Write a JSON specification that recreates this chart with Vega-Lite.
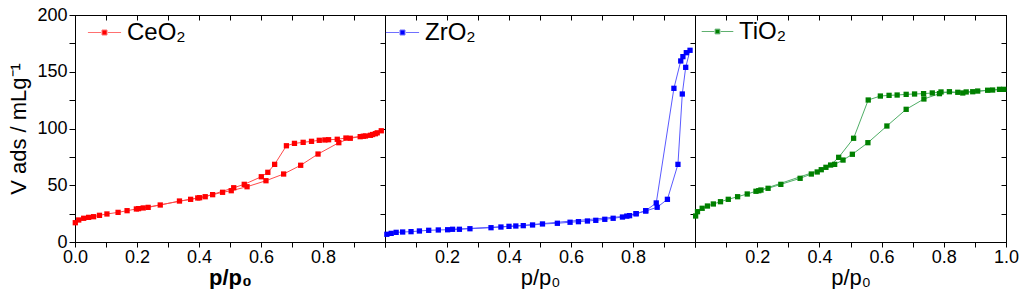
{
  "$schema": "https://vega.github.io/schema/vega-lite/v6.json",
  "padding": {"left": 7, "top": 5, "right": 4, "bottom": 0},
  "background": "white",
  "spacing": 0,
  "bounds": "flush",
  "config": {
    "view": {"stroke": "#000000", "strokeWidth": 1},
    "font": "Liberation Sans",
    "axis": {
      "grid": false, "domainColor": "#000000", "tickColor": "#000000", "labelColor": "#000000",
      "titleColor": "#000000", "labelFont": "Liberation Sans", "titleFont": "Liberation Sans",
      "labelFontSize": 18, "titleFontSize": 22, "titleFontWeight": "normal",
      "labelFlush": false, "labelOverlap": false, "labelBound": false, "tickWidth": 1, "domainWidth": 1
    },
    "legend": {"labelFont": "Liberation Sans", "labelFontSize": 24, "labelColor": "#000000", "padding": 0}
  },
  "datasets": {
    "ceo2": [
      {"i":1,"p":0.001,"v":17,"sample":"CeO₂"},{"i":2,"p":0.012,"v":19.4,"sample":"CeO₂"},{"i":3,"p":0.028,"v":20.9,"sample":"CeO₂"},{"i":4,"p":0.044,"v":21.7,"sample":"CeO₂"},{"i":5,"p":0.06,"v":22.3,"sample":"CeO₂"},{"i":6,"p":0.079,"v":23.5,"sample":"CeO₂"},{"i":7,"p":0.103,"v":24.7,"sample":"CeO₂"},{"i":8,"p":0.139,"v":26.1,"sample":"CeO₂"},{"i":9,"p":0.168,"v":27.6,"sample":"CeO₂"},{"i":10,"p":0.198,"v":29.1,"sample":"CeO₂"},{"i":11,"p":0.236,"v":30.5,"sample":"CeO₂"},{"i":12,"p":0.275,"v":32.6,"sample":"CeO₂"},{"i":13,"p":0.337,"v":36.1,"sample":"CeO₂"},{"i":14,"p":0.373,"v":37.6,"sample":"CeO₂"},{"i":15,"p":0.402,"v":39,"sample":"CeO₂"},{"i":16,"p":0.444,"v":41.7,"sample":"CeO₂"},{"i":17,"p":0.476,"v":43.8,"sample":"CeO₂"},{"i":18,"p":0.504,"v":45.2,"sample":"CeO₂"},{"i":19,"p":0.555,"v":48.7,"sample":"CeO₂"},{"i":20,"p":0.616,"v":54,"sample":"CeO₂"},{"i":21,"p":0.673,"v":59.9,"sample":"CeO₂"},{"i":22,"p":0.728,"v":67.6,"sample":"CeO₂"},{"i":23,"p":0.784,"v":77.5,"sample":"CeO₂"},{"i":24,"p":0.851,"v":87.5,"sample":"CeO₂"},{"i":25,"p":0.888,"v":91.4,"sample":"CeO₂"},{"i":26,"p":0.92,"v":92.8,"sample":"CeO₂"},{"i":27,"p":0.937,"v":93.4,"sample":"CeO₂"},{"i":28,"p":0.953,"v":94,"sample":"CeO₂"},{"i":29,"p":0.969,"v":95.4,"sample":"CeO₂"},{"i":30,"p":0.988,"v":98,"sample":"CeO₂"},
      {"i":31,"p":0.975,"v":96.2,"sample":"CeO₂"},{"i":32,"p":0.96,"v":94.7,"sample":"CeO₂"},{"i":33,"p":0.93,"v":93.2,"sample":"CeO₂"},{"i":34,"p":0.874,"v":91.6,"sample":"CeO₂"},{"i":35,"p":0.846,"v":90.5,"sample":"CeO₂"},{"i":36,"p":0.818,"v":90.1,"sample":"CeO₂"},{"i":37,"p":0.806,"v":89.9,"sample":"CeO₂"},{"i":38,"p":0.788,"v":89.6,"sample":"CeO₂"},{"i":39,"p":0.763,"v":88.7,"sample":"CeO₂"},{"i":40,"p":0.736,"v":87.8,"sample":"CeO₂"},{"i":41,"p":0.708,"v":86.9,"sample":"CeO₂"},{"i":42,"p":0.682,"v":84.8,"sample":"CeO₂"},{"i":43,"p":0.644,"v":68.4,"sample":"CeO₂"},{"i":44,"p":0.622,"v":61.4,"sample":"CeO₂"},{"i":45,"p":0.601,"v":57.5,"sample":"CeO₂"},{"i":46,"p":0.546,"v":50.8,"sample":"CeO₂"},{"i":47,"p":0.512,"v":47.8,"sample":"CeO₂"},{"i":48,"p":0.42,"v":39.9,"sample":"CeO₂"},{"i":49,"p":0.396,"v":38.8,"sample":"CeO₂"},{"i":50,"p":0.22,"v":30,"sample":"CeO₂"},{"i":51,"p":0.205,"v":29.4,"sample":"CeO₂"}
    ],
    "zro2": [
      {"i":1,"p":0.006,"v":6.8,"sample":"ZrO₂"},{"i":2,"p":0.02,"v":7.6,"sample":"ZrO₂"},{"i":3,"p":0.036,"v":8.5,"sample":"ZrO₂"},{"i":4,"p":0.057,"v":8.8,"sample":"ZrO₂"},{"i":5,"p":0.084,"v":9.1,"sample":"ZrO₂"},{"i":6,"p":0.111,"v":9.7,"sample":"ZrO₂"},{"i":7,"p":0.141,"v":10.3,"sample":"ZrO₂"},{"i":8,"p":0.172,"v":10.6,"sample":"ZrO₂"},{"i":9,"p":0.202,"v":10.8,"sample":"ZrO₂"},{"i":10,"p":0.24,"v":11.2,"sample":"ZrO₂"},{"i":11,"p":0.274,"v":11.7,"sample":"ZrO₂"},{"i":12,"p":0.342,"v":12.6,"sample":"ZrO₂"},{"i":13,"p":0.374,"v":13.2,"sample":"ZrO₂"},{"i":14,"p":0.4,"v":13.8,"sample":"ZrO₂"},{"i":15,"p":0.446,"v":14.4,"sample":"ZrO₂"},{"i":16,"p":0.476,"v":15,"sample":"ZrO₂"},{"i":17,"p":0.508,"v":15.9,"sample":"ZrO₂"},{"i":18,"p":0.556,"v":16.5,"sample":"ZrO₂"},{"i":19,"p":0.597,"v":17.4,"sample":"ZrO₂"},{"i":20,"p":0.624,"v":17.9,"sample":"ZrO₂"},{"i":21,"p":0.653,"v":18.5,"sample":"ZrO₂"},{"i":22,"p":0.68,"v":19.1,"sample":"ZrO₂"},{"i":23,"p":0.709,"v":20,"sample":"ZrO₂"},{"i":24,"p":0.736,"v":20.9,"sample":"ZrO₂"},{"i":25,"p":0.766,"v":22,"sample":"ZrO₂"},{"i":26,"p":0.789,"v":23.2,"sample":"ZrO₂"},{"i":27,"p":0.81,"v":24.9,"sample":"ZrO₂"},{"i":28,"p":0.841,"v":27.3,"sample":"ZrO₂"},{"i":29,"p":0.878,"v":30.6,"sample":"ZrO₂"},{"i":30,"p":0.911,"v":37.6,"sample":"ZrO₂"},{"i":31,"p":0.945,"v":68.4,"sample":"ZrO₂"},{"i":32,"p":0.959,"v":130.4,"sample":"ZrO₂"},{"i":33,"p":0.97,"v":153.9,"sample":"ZrO₂"},{"i":34,"p":0.984,"v":168.9,"sample":"ZrO₂"},
      {"i":35,"p":0.972,"v":166.8,"sample":"ZrO₂"},{"i":36,"p":0.961,"v":163.3,"sample":"ZrO₂"},{"i":37,"p":0.954,"v":159.5,"sample":"ZrO₂"},{"i":38,"p":0.932,"v":135.4,"sample":"ZrO₂"},{"i":39,"p":0.875,"v":34.4,"sample":"ZrO₂"},{"i":40,"p":0.841,"v":27.6,"sample":"ZrO₂"},{"i":41,"p":0.81,"v":25,"sample":"ZrO₂"},{"i":42,"p":0.78,"v":22.8,"sample":"ZrO₂"},{"i":43,"p":0.422,"v":14.1,"sample":"ZrO₂"},{"i":44,"p":0.218,"v":11.2,"sample":"ZrO₂"}
    ],
    "tio2": [
      {"i":1,"p":0.002,"v":22.9,"sample":"TiO₂"},{"i":2,"p":0.008,"v":26.7,"sample":"TiO₂"},{"i":3,"p":0.023,"v":29.7,"sample":"TiO₂"},{"i":4,"p":0.04,"v":31.7,"sample":"TiO₂"},{"i":5,"p":0.059,"v":33.5,"sample":"TiO₂"},{"i":6,"p":0.082,"v":35.5,"sample":"TiO₂"},{"i":7,"p":0.107,"v":37.6,"sample":"TiO₂"},{"i":8,"p":0.137,"v":39.9,"sample":"TiO₂"},{"i":9,"p":0.168,"v":42.3,"sample":"TiO₂"},{"i":10,"p":0.196,"v":44.7,"sample":"TiO₂"},{"i":11,"p":0.212,"v":45.8,"sample":"TiO₂"},{"i":12,"p":0.235,"v":47.3,"sample":"TiO₂"},{"i":13,"p":0.276,"v":50.8,"sample":"TiO₂"},{"i":14,"p":0.338,"v":56.1,"sample":"TiO₂"},{"i":15,"p":0.374,"v":59.9,"sample":"TiO₂"},{"i":16,"p":0.393,"v":61.7,"sample":"TiO₂"},{"i":17,"p":0.421,"v":65.8,"sample":"TiO₂"},{"i":18,"p":0.449,"v":68.4,"sample":"TiO₂"},{"i":19,"p":0.476,"v":72.2,"sample":"TiO₂"},{"i":20,"p":0.506,"v":77.3,"sample":"TiO₂"},{"i":21,"p":0.556,"v":87.5,"sample":"TiO₂"},{"i":22,"p":0.617,"v":102.2,"sample":"TiO₂"},{"i":23,"p":0.679,"v":116.9,"sample":"TiO₂"},{"i":24,"p":0.736,"v":126,"sample":"TiO₂"},{"i":25,"p":0.786,"v":130.7,"sample":"TiO₂"},{"i":26,"p":0.818,"v":132.4,"sample":"TiO₂"},{"i":27,"p":0.845,"v":131.9,"sample":"TiO₂"},{"i":28,"p":0.872,"v":132.2,"sample":"TiO₂"},{"i":29,"p":0.909,"v":133,"sample":"TiO₂"},{"i":30,"p":0.941,"v":133.7,"sample":"TiO₂"},{"i":31,"p":0.979,"v":134.5,"sample":"TiO₂"},{"i":32,"p":0.993,"v":134.5,"sample":"TiO₂"},
      {"i":33,"p":0.957,"v":133.9,"sample":"TiO₂"},{"i":34,"p":0.893,"v":132.4,"sample":"TiO₂"},{"i":35,"p":0.861,"v":131.3,"sample":"TiO₂"},{"i":36,"p":0.791,"v":132.2,"sample":"TiO₂"},{"i":37,"p":0.763,"v":131.3,"sample":"TiO₂"},{"i":38,"p":0.735,"v":130.7,"sample":"TiO₂"},{"i":39,"p":0.706,"v":130.4,"sample":"TiO₂"},{"i":40,"p":0.679,"v":130.1,"sample":"TiO₂"},{"i":41,"p":0.65,"v":129.5,"sample":"TiO₂"},{"i":42,"p":0.624,"v":129.2,"sample":"TiO₂"},{"i":43,"p":0.596,"v":128.6,"sample":"TiO₂"},{"i":44,"p":0.557,"v":125.1,"sample":"TiO₂"},{"i":45,"p":0.51,"v":91.4,"sample":"TiO₂"},{"i":46,"p":0.462,"v":74.6,"sample":"TiO₂"},{"i":47,"p":0.436,"v":67.8,"sample":"TiO₂"},{"i":48,"p":0.406,"v":63.7,"sample":"TiO₂"},{"i":49,"p":0.205,"v":45.2,"sample":"TiO₂"}
    ]
  },
  "hconcat": [
    {
      "width": 310, "height": 227,
      "data": {"name": "ceo2"},
      "resolve": {"axis": {"x": "independent", "y": "independent"}},
      "layer": [
        {
          "mark": {"type": "line", "color": "#ff4a4a", "strokeWidth": 1},
          "encoding": {
            "x": {"field": "p", "type": "quantitative", "scale": {"domain": [0, 1], "nice": false},
                  "axis": {"orient": "bottom", "values": [0,0.1,0.2,0.3,0.4,0.5,0.6,0.7,0.8,0.9,1.0], "labelExpr": "indexof(['0.0','0.2','0.4','0.6','0.8'], format(datum.value, '.1f')) >= 0 ? format(datum.value, '.1f') : ''", "tickSize": 5, "labelPadding": 1, "title": "p/p₀", "titleFontWeight": "bold", "titlePadding": 1}},
            "y": {"field": "v", "type": "quantitative", "scale": {"domain": [0, 200], "nice": false},
                  "axis": {"orient": "left", "values": [0,25,50,75,100,125,150,175,200], "labelExpr": "datum.value % 50 == 0 ? datum.label : ''", "tickSize": 6, "labelPadding": 2, "labelBaseline": "middle", "title": "V ads / mLg⁻¹", "titlePadding": 6}},
            "order": {"field": "i", "type": "quantitative"}
          }
        },
        {
          "mark": {"type": "square", "size": 28, "opacity": 1, "filled": true},
          "encoding": {
            "x": {"field": "p", "type": "quantitative", "axis": {"orient": "top", "values": [0,0.1,0.2,0.3,0.4,0.5,0.6,0.7,0.8,0.9,1.0], "labels": false, "tickSize": -5, "title": null}},
            "y": {"field": "v", "type": "quantitative", "axis": {"orient": "right", "values": [0,25,50,75,100,125,150,175,200], "labels": false, "tickSize": -5, "title": null}},
            "color": {"field": "sample", "type": "nominal", "scale": {"domain": ["CeO₂"], "range": ["#ff0000"]},
                      "legend": {"title": null, "orient": "none", "legendX": 12, "legendY": 0, "symbolType": "M-1,0H-0.2M0.2,0H1M-0.15,-0.15H0.15V0.15H-0.15Z", "symbolSize": 1100, "symbolStrokeColor": "#ff7070", "symbolFillColor": "#ff0000", "symbolStrokeWidth": 1, "labelOffset": 5}}
          }
        }
      ]
    },
    {
      "width": 310, "height": 227,
      "data": {"name": "zro2"},
      "resolve": {"axis": {"x": "independent", "y": "independent"}},
      "layer": [
        {
          "mark": {"type": "line", "color": "#5a5aff", "strokeWidth": 1},
          "encoding": {
            "x": {"field": "p", "type": "quantitative", "scale": {"domain": [0, 1], "nice": false},
                  "axis": {"orient": "bottom", "values": [0,0.1,0.2,0.3,0.4,0.5,0.6,0.7,0.8,0.9,1.0], "labelExpr": "indexof(['0.2','0.4','0.6','0.8'], format(datum.value, '.1f')) >= 0 ? format(datum.value, '.1f') : ''", "tickSize": 5, "labelPadding": 1, "title": "p/p₀", "titlePadding": 1}},
            "y": {"field": "v", "type": "quantitative", "scale": {"domain": [0, 200], "nice": false},
                  "axis": {"orient": "left", "ticks": false, "labels": false, "title": null}},
            "order": {"field": "i", "type": "quantitative"}
          }
        },
        {
          "mark": {"type": "square", "size": 28, "opacity": 1, "filled": true},
          "encoding": {
            "x": {"field": "p", "type": "quantitative", "axis": {"orient": "top", "values": [0,0.1,0.2,0.3,0.4,0.5,0.6,0.7,0.8,0.9,1.0], "labels": false, "tickSize": -5, "title": null}},
            "y": {"field": "v", "type": "quantitative", "axis": {"orient": "right", "values": [0,25,50,75,100,125,150,175,200], "labels": false, "tickSize": -5, "title": null}},
            "color": {"field": "sample", "type": "nominal", "scale": {"domain": ["ZrO₂"], "range": ["#0000ff"]},
                      "legend": {"title": null, "orient": "none", "legendX": 0, "legendY": 0, "symbolType": "M-1,0H-0.2M0.2,0H1M-0.15,-0.15H0.15V0.15H-0.15Z", "symbolSize": 1100, "symbolStrokeColor": "#7070ff", "symbolFillColor": "#0000ff", "symbolStrokeWidth": 1, "labelOffset": 5}}
          }
        }
      ]
    },
    {
      "width": 311, "height": 227,
      "data": {"name": "tio2"},
      "resolve": {"axis": {"x": "independent", "y": "independent"}},
      "layer": [
        {
          "mark": {"type": "line", "color": "#4fae66", "strokeWidth": 1},
          "encoding": {
            "x": {"field": "p", "type": "quantitative", "scale": {"domain": [0, 1], "nice": false},
                  "axis": {"orient": "bottom", "values": [0,0.1,0.2,0.3,0.4,0.5,0.6,0.7,0.8,0.9,1.0], "labelExpr": "indexof(['0.2','0.4','0.6','0.8','1.0'], format(datum.value, '.1f')) >= 0 ? format(datum.value, '.1f') : ''", "tickSize": 5, "labelPadding": 1, "title": "p/p₀", "titlePadding": 1}},
            "y": {"field": "v", "type": "quantitative", "scale": {"domain": [0, 200], "nice": false},
                  "axis": {"orient": "left", "ticks": false, "labels": false, "title": null}},
            "order": {"field": "i", "type": "quantitative"}
          }
        },
        {
          "mark": {"type": "square", "size": 28, "opacity": 1, "filled": true},
          "encoding": {
            "x": {"field": "p", "type": "quantitative", "axis": {"orient": "top", "values": [0,0.1,0.2,0.3,0.4,0.5,0.6,0.7,0.8,0.9,1.0], "labels": false, "tickSize": -5, "title": null}},
            "y": {"field": "v", "type": "quantitative", "axis": {"orient": "right", "values": [0,25,50,75,100,125,150,175,200], "labels": false, "tickSize": -5, "title": null}},
            "color": {"field": "sample", "type": "nominal", "scale": {"domain": ["TiO₂"], "range": ["#008000"]},
                      "legend": {"title": null, "orient": "none", "legendX": 6, "legendY": 0, "symbolType": "M-1,0H-0.2M0.2,0H1M-0.15,-0.15H0.15V0.15H-0.15Z", "symbolSize": 1000, "symbolStrokeColor": "#60b070", "symbolFillColor": "#008000", "symbolStrokeWidth": 1, "labelOffset": 5}}
          }
        }
      ]
    }
  ],
  "resolve": {"scale": {"color": "independent"}, "legend": {"color": "independent"}}
}
